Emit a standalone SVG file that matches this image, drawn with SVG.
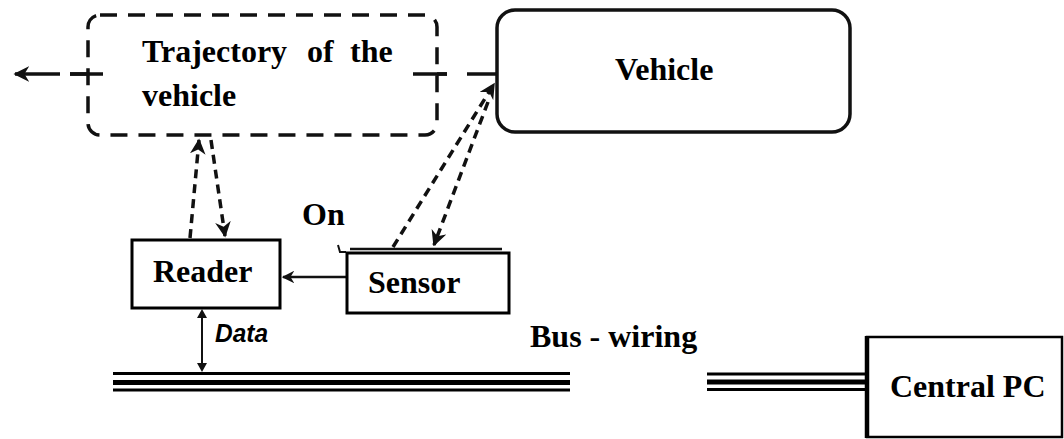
<svg xmlns="http://www.w3.org/2000/svg" width="1064" height="439" viewBox="0 0 1064 439">
<style>
.lbl{font-family:"Liberation Serif","Times New Roman",serif;font-weight:bold;font-size:32px;fill:#000}
.box{fill:#fff;stroke:#000;stroke-width:3}
.dash{fill:none;stroke:#111;stroke-width:3.5;stroke-dasharray:9 6}
.tdash{fill:#fff;stroke:#111;stroke-width:3.5;stroke-dasharray:17 11}
.solid{fill:none;stroke:#111;stroke-width:3.5}
.bus{stroke:#000;fill:none}
</style>
<defs>
<marker id="ah" viewBox="0 0 10 10" refX="9" refY="5" markerWidth="4.5" markerHeight="4.5" orient="auto" markerUnits="strokeWidth">
<path d="M0 0 L10 5 L0 10 L3 5 Z" fill="#111"/>
</marker>
<marker id="ahs" viewBox="0 0 10 10" refX="9" refY="5" markerWidth="5" markerHeight="5" orient="auto" markerUnits="strokeWidth">
<path d="M0 0 L10 5 L0 10 L3 5 Z" fill="#111"/>
</marker>
</defs>
<rect width="1064" height="439" fill="#fff"/>

<g id="connectors">
<path class="solid" d="M60 74 H15" marker-end="url(#ah)"/>
<path class="solid" d="M70 74 H103 M113 74 H118 M413 74 H447 M467 74 H497"/>
<path class="dash" d="M190 238 L199 140" marker-end="url(#ah)"/>
<path class="dash" d="M211 140 L225 236" marker-end="url(#ah)"/>
<path class="dash" d="M393 247 L494 84" marker-end="url(#ah)"/>
<path class="dash" d="M488 102 L434 245" marker-end="url(#ah)"/>
<path d="M346 277 H283" stroke="#111" stroke-width="2.5" fill="none" marker-end="url(#ahs)"/>
<path d="M202 318 V364" stroke="#111" stroke-width="2" fill="none"/>
<path d="M202 309 L197 318 L207 318 Z M202 372 L197 363 L207 363 Z" fill="#111"/>
<path d="M338 245 L340 252 L346 252" stroke="#111" stroke-width="2" fill="none"/>
<g id="bus">
<path class="bus" stroke-width="3" d="M113 373.5 H570 M707 374 H866"/>
<path class="bus" stroke-width="5" d="M113 382.5 H570 M707 382 H866"/>
<path class="bus" stroke-width="3" d="M113 390 H570 M707 389.5 H866"/>
</g>
</g>

<g id="trajectory">
<rect x="88" y="15" width="349" height="120" rx="12" ry="12" class="tdash" fill="none"/>
<path class="solid" d="M70 74 H103 M413 74 H447"/>
<text class="lbl" x="142" y="62">Trajectory</text>
<text class="lbl" x="307" y="62">of</text>
<text class="lbl" x="350" y="62">the</text>
<text class="lbl" x="142" y="106">vehicle</text>
</g>

<g id="vehicle">
<rect x="497" y="10" width="353" height="122" rx="18" ry="18" fill="#fff" stroke="#111" stroke-width="3.5"/>
<text class="lbl" x="615" y="80">Vehicle</text>
</g>

<g id="reader">
<rect x="132" y="240" width="148" height="68" class="box"/>
<text class="lbl" x="153" y="282">Reader</text>
</g>

<g id="sensor">
<path d="M350 249 H502" stroke="#111" stroke-width="2.5"/>
<rect x="347" y="253" width="162" height="60" class="box"/>
<text class="lbl" x="368" y="293">Sensor</text>
</g>

<g id="centralpc">
<rect x="867" y="337" width="195" height="100" fill="#fff" stroke="#000" stroke-width="2.5"/>
<path d="M867 336 V438" stroke="#000" stroke-width="4.5"/>
<text class="lbl" x="890" y="397">Central PC</text>
</g>

<g id="labels">
<text class="lbl" x="302" y="225">On</text>
<text x="215" y="342" font-family="Liberation Sans, Arial, sans-serif" font-weight="bold" font-style="italic" font-size="25" textLength="53" lengthAdjust="spacingAndGlyphs" fill="#000">Data</text>
<text class="lbl" x="530" y="347">Bus - wiring</text>
</g>
</svg>
